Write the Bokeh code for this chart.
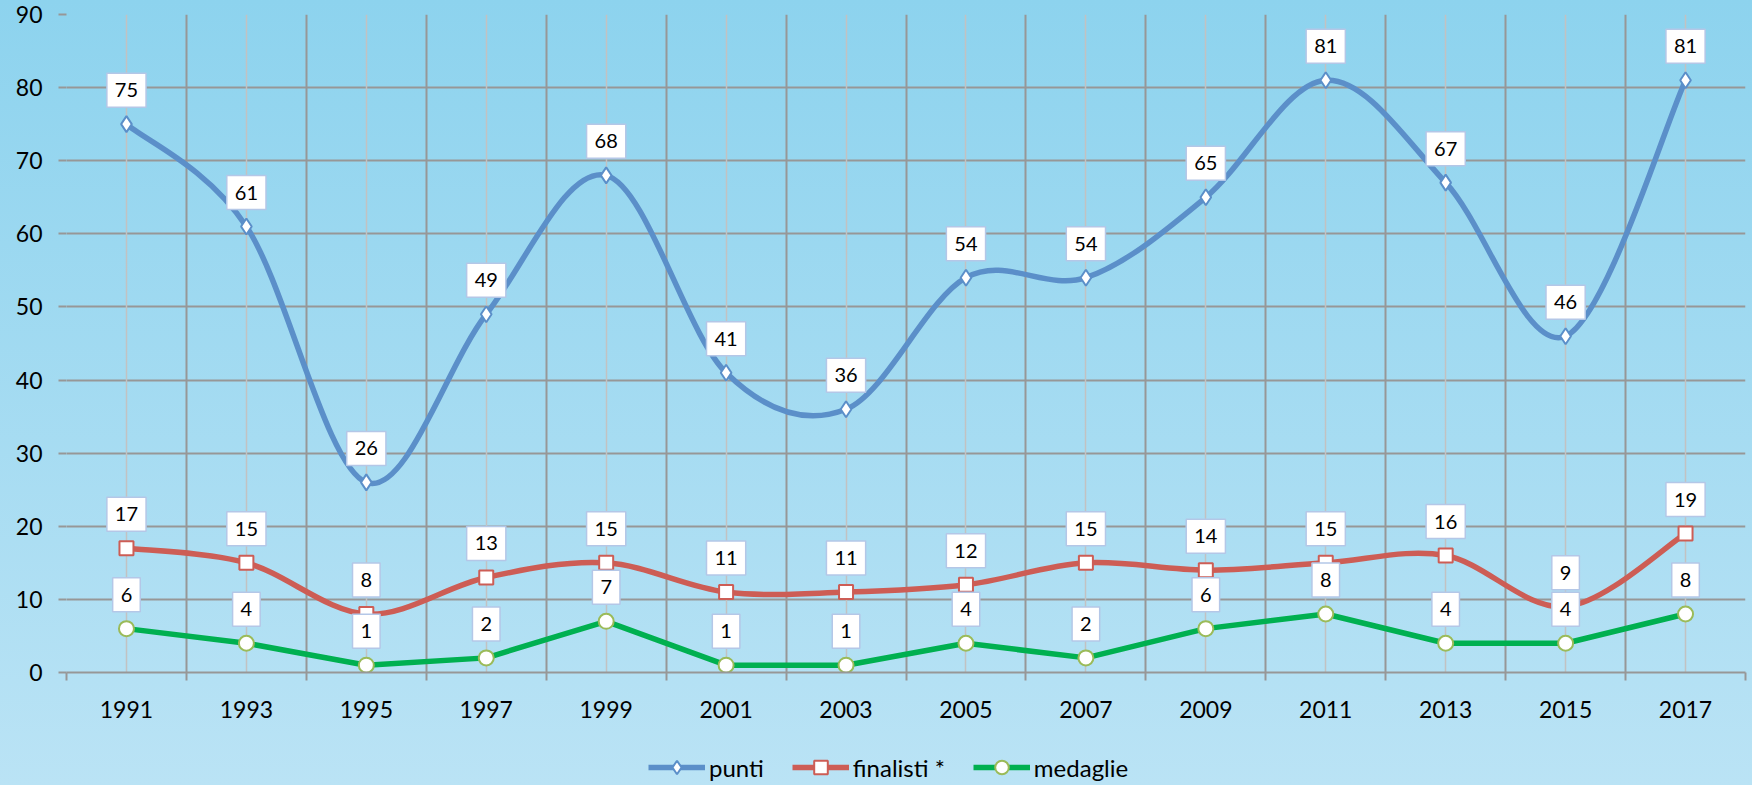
import numpy as np
from bokeh.plotting import figure
from bokeh.layouts import column
from bokeh.models import (ColumnDataSource, FixedTicker, Grid, Legend, LegendItem, Range1d)
from bokeh.core.properties import value
from bokeh.embed import file_html
from bokeh.resources import INLINE

years = ["1991", "1993", "1995", "1997", "1999", "2001", "2003",
         "2005", "2007", "2009", "2011", "2013", "2015", "2017"]
punti = [75, 61, 26, 49, 68, 41, 36, 54, 54, 65, 81, 67, 46, 81]
finalisti = [17, 15, 8, 13, 15, 11, 11, 12, 15, 14, 15, 16, 9, 19]
medaglie = [6, 4, 1, 2, 7, 1, 1, 4, 2, 6, 8, 4, 4, 8]
y_ticks = list(range(0, 91, 10))
series_names = ["punti", "finalisti *", "medaglie"]

FONT = "Lato"
GRID = "#979797"
C_PUNTI = "#5b8fc9"
C_FIN = "#cd5d55"
C_MED = "#00b050"
C_MED_EDGE = "#9bbb59"

xs = list(range(len(years)))
bounds = [i - 0.5 for i in range(len(years) + 1)]

p = figure(width=1752, height=745, output_backend="svg", toolbar_location=None,
           x_range=Range1d(-0.5, len(years) - 0.5), y_range=Range1d(0, 90),
           min_border_left=66, min_border_right=7, min_border_top=14, min_border_bottom=73)
p.background_fill_alpha = 0
p.border_fill_alpha = 0
p.outline_line_color = None

# grids
p.xgrid.ticker = FixedTicker(ticks=bounds)
p.xgrid.grid_line_color = GRID
p.xgrid.grid_line_width = 2
center_grid = Grid(dimension=0, ticker=FixedTicker(ticks=xs),
                   grid_line_color="#c2c2c2", grid_line_width=1.5)
p.add_layout(center_grid)
p.ygrid.ticker = FixedTicker(ticks=y_ticks)
p.ygrid.grid_line_color = GRID
p.ygrid.grid_line_width = 2

# axes
p.yaxis.ticker = FixedTicker(ticks=y_ticks)
p.yaxis.axis_line_color = None
p.yaxis.major_tick_out = 8
p.yaxis.major_tick_in = 0
p.yaxis.major_tick_line_color = GRID
p.yaxis.major_tick_line_width = 2
p.yaxis.minor_tick_line_color = None
p.yaxis.major_label_standoff = 16
p.yaxis.major_label_text_font = FONT
p.yaxis.major_label_text_font_size = "23px"
p.yaxis.major_label_text_color = "black"

p.xaxis.ticker = FixedTicker(ticks=xs, minor_ticks=bounds)
p.xaxis.major_label_overrides = {i: y for i, y in enumerate(years)}
p.xaxis.axis_line_color = GRID
p.xaxis.axis_line_width = 2
p.xaxis.major_tick_out = 0
p.xaxis.major_tick_in = 0
p.xaxis.minor_tick_out = 8
p.xaxis.minor_tick_in = 0
p.xaxis.minor_tick_line_color = GRID
p.xaxis.minor_tick_line_width = 2
p.xaxis.major_label_standoff = 20
p.xaxis.major_label_text_font = FONT
p.xaxis.major_label_text_font_size = "23px"
p.xaxis.major_label_text_color = "black"


def smooth_source(vals):
    n = len(vals)
    d = dict(x0=[], y0=[], x1=[], y1=[], cx0=[], cy0=[], cx1=[], cy1=[])
    for i in range(n - 1):
        a, b = max(i - 1, 0), min(i + 2, n - 1)
        d["x0"].append(xs[i]); d["y0"].append(vals[i])
        d["x1"].append(xs[i + 1]); d["y1"].append(vals[i + 1])
        d["cx0"].append(xs[i] + (xs[i + 1] - xs[a]) / 6)
        d["cy0"].append(vals[i] + (vals[i + 1] - vals[a]) / 6)
        d["cx1"].append(xs[i + 1] - (xs[b] - xs[i]) / 6)
        d["cy1"].append(vals[i + 1] - (vals[b] - vals[i]) / 6)
    return ColumnDataSource(d)


src_p = ColumnDataSource(dict(x=xs, y=punti, t=[str(v) for v in punti]))
src_f = ColumnDataSource(dict(x=xs, y=finalisti, t=[str(v) for v in finalisti]))
src_m = ColumnDataSource(dict(x=xs, y=medaglie, t=[str(v) for v in medaglie]))

# punti
p.bezier(x0="x0", y0="y0", x1="x1", y1="y1", cx0="cx0", cy0="cy0", cx1="cx1", cy1="cy1",
         source=smooth_source(punti), line_color=C_PUNTI, line_width=5.5, line_cap="round")
p.scatter("x", "y", source=src_p, marker="diamond", size=16, fill_color="white",
          line_color=C_PUNTI, line_width=2)
# finalisti
p.bezier(x0="x0", y0="y0", x1="x1", y1="y1", cx0="cx0", cy0="cy0", cx1="cx1", cy1="cy1",
         source=smooth_source(finalisti), line_color=C_FIN, line_width=5.5, line_cap="round")
p.scatter("x", "y", source=src_f, marker="square", size=14, fill_color="white",
          line_color=C_FIN, line_width=2)
# medaglie
p.line("x", "y", source=src_m, line_color=C_MED, line_width=5.5, line_join="round")
p.scatter("x", "y", source=src_m, marker="circle", size=15, fill_color="white",
          line_color=C_MED_EDGE, line_width=2)

# data labels
for src in (src_p, src_f, src_m):
    p.text("x", "y", text="t", source=src, text_font=value(FONT), text_font_size="20px",
           text_color="black", text_align="center", text_baseline="bottom",
           anchor="bottom_center", y_offset=-17, padding=dict(x=8, y=10),
           background_fill_color="white", border_line_color="#b4c7e7", border_line_width=1.5)

# legend strip
q = figure(width=1752, height=40, output_backend="svg", toolbar_location=None,
           x_range=Range1d(0, 1), y_range=Range1d(0, 1),
           x_axis_type=None, y_axis_type=None,
           min_border_left=0, min_border_right=0, min_border_top=0, min_border_bottom=0)
q.background_fill_alpha = 0
q.border_fill_alpha = 0
q.outline_line_color = None
q.grid.visible = False

items = []
for name, col, mk, sz, edge in ((series_names[0], C_PUNTI, "diamond", 13, C_PUNTI),
                                (series_names[1], C_FIN, "square", 14, C_FIN),
                                (series_names[2], C_MED, "circle", 14, C_MED_EDGE)):
    ln = q.line(x=[0.5], y=[0.5], line_color=col, line_width=5.5)
    mr = q.scatter(x=[-5], y=[-5], marker=mk, size=sz, fill_color="white",
                   line_color=edge, line_width=2)
    items.append(LegendItem(label=name, renderers=[ln, mr]))

legend = Legend(items=items, orientation="horizontal", location=(582, 1),
                label_text_font=FONT, label_text_font_size="24px", label_text_color="black",
                glyph_width=57, glyph_height=34, label_standoff=4, spacing=28,
                margin=0, padding=0,
                border_line_alpha=0, background_fill_alpha=0)
q.add_layout(legend)

layout = column(p, q, spacing=0,
                styles={"background": "linear-gradient(to bottom, #8dd3ee 0%, #bae3f5 100%)"})

open("out.html", "w").write(file_html(layout, INLINE))
